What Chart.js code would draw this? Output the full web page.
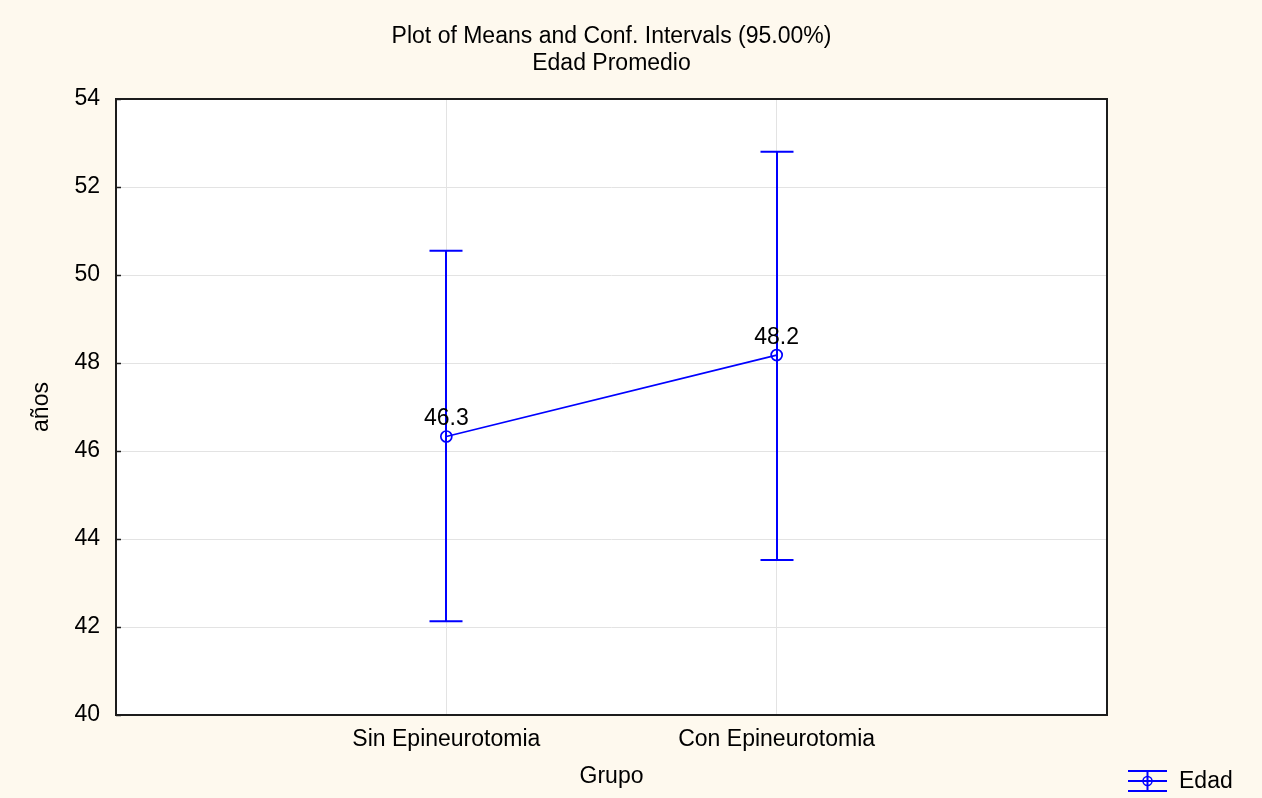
<!DOCTYPE html>
<html>
<head>
<meta charset="utf-8">
<script src="https://cdn.jsdelivr.net/npm/chart.js@4.4.1/dist/chart.umd.min.js"></script>
<style>
  html, body { margin: 0; padding: 0; background: #fef9ee; }
  #wrap { width: 1262px; height: 798px; }
  canvas { display: block; }
</style>
</head>
<body>
<div id="wrap"><canvas id="chart"></canvas></div>
<script>
// Group means of age with 95% confidence limits
const groups = ['Sin Epineurotomia', 'Con Epineurotomia'];
const means = [46.33, 48.18];
const lowerCI = [42.13, 43.52];
const upperCI = [50.55, 52.80];
const meanLabels = ['46.3', '48.2'];
const yTickValues = [40, 42, 44, 46, 48, 50, 52, 54];
const seriesName = 'Edad';

const FONT = 'Liberation Sans, Arial, Helvetica, sans-serif';
const FS = 23;
const BLUE = '#0000ff';
const PAPER = '#fef9ee';

// Page background, white plot area, frame and inner tick marks
const framePlugin = {
  id: 'frame',
  beforeDraw(chart) {
    const { ctx, chartArea: a, width, height } = chart;
    ctx.save();
    ctx.fillStyle = PAPER;
    ctx.fillRect(0, 0, width, height);
    ctx.fillStyle = '#ffffff';
    ctx.fillRect(a.left, a.top, a.right - a.left, a.bottom - a.top);
    ctx.restore();
  },
  afterDraw(chart) {
    const { ctx, chartArea: a, scales } = chart;
    ctx.save();
    ctx.strokeStyle = '#1c1c1c';
    ctx.lineWidth = 2;
    ctx.strokeRect(a.left, a.top, a.right - a.left, a.bottom - a.top);
    ctx.lineWidth = 1.5;
    yTickValues.forEach(v => {
      const y = Math.round(scales.y.getPixelForValue(v)) + 0.5;
      ctx.beginPath();
      ctx.moveTo(a.left, y);
      ctx.lineTo(a.left + 5, y);
      ctx.stroke();
    });
    ctx.restore();
  }
};

// Confidence interval whiskers with end caps
const errorBarPlugin = {
  id: 'errorBars',
  beforeDatasetsDraw(chart) {
    const { ctx, scales } = chart;
    const cap = 16.5;
    ctx.save();
    ctx.strokeStyle = BLUE;
    ctx.lineWidth = 2;
    groups.forEach((g, i) => {
      const x = Math.round(scales.x.getPixelForValue(i + 1));
      const yLo = scales.y.getPixelForValue(lowerCI[i]);
      const yHi = scales.y.getPixelForValue(upperCI[i]);
      ctx.beginPath();
      ctx.moveTo(x, yLo);
      ctx.lineTo(x, yHi);
      ctx.moveTo(x - cap, yLo);
      ctx.lineTo(x + cap, yLo);
      ctx.moveTo(x - cap, yHi);
      ctx.lineTo(x + cap, yHi);
      ctx.stroke();
    });
    ctx.restore();
  }
};

// Value labels above each mean, plus the legend entry
const annotatePlugin = {
  id: 'annotate',
  afterDatasetsDraw(chart) {
    const { ctx, scales } = chart;
    ctx.save();
    ctx.fillStyle = '#000000';
    ctx.font = FS + 'px ' + FONT;
    ctx.textAlign = 'center';
    ctx.textBaseline = 'alphabetic';
    groups.forEach((g, i) => {
      const x = scales.x.getPixelForValue(i + 1);
      const y = scales.y.getPixelForValue(means[i]);
      ctx.fillText(meanLabels[i], x, y - 11);
    });

    // legend symbol: whisker with caps and a circle
    const lx = 1128, lw = 39, ly = 781;
    ctx.strokeStyle = BLUE;
    ctx.lineWidth = 2;
    ctx.beginPath();
    ctx.moveTo(lx, ly - 10); ctx.lineTo(lx + lw, ly - 10);
    ctx.moveTo(lx, ly); ctx.lineTo(lx + lw, ly);
    ctx.moveTo(lx, ly + 10); ctx.lineTo(lx + lw, ly + 10);
    ctx.moveTo(lx + lw / 2, ly - 10); ctx.lineTo(lx + lw / 2, ly + 10);
    ctx.stroke();
    ctx.lineWidth = 1.5;
    ctx.beginPath();
    ctx.arc(lx + lw / 2, ly, 4.5, 0, Math.PI * 2);
    ctx.stroke();
    ctx.fillStyle = '#000000';
    ctx.textAlign = 'left';
    ctx.textBaseline = 'middle';
    ctx.fillText(seriesName, 1179, ly + 1);
    ctx.restore();
  }
};

new Chart(document.getElementById('chart'), {
  type: 'line',
  data: {
    datasets: [{
      label: seriesName,
      data: means.map((m, i) => ({ x: i + 1, y: m })),
      borderColor: BLUE,
      borderWidth: 1.7,
      pointStyle: 'circle',
      pointRadius: 5.5,
      pointBorderWidth: 1.7,
      pointBorderColor: BLUE,
      pointBackgroundColor: 'rgba(0,0,0,0)',
      tension: 0,
      clip: false
    }]
  },
  options: {
    responsive: true,
    maintainAspectRatio: false,
    animation: false,
    layout: { padding: { left: 0, right: 39, top: 0, bottom: 0 } },
    plugins: {
      legend: { display: false },
      tooltip: { enabled: false },
      title: {
        display: true,
        text: ['Plot of Means and Conf. Intervals (95.00%)', 'Edad Promedio'],
        color: '#000000',
        font: { family: FONT, size: FS, weight: 'normal', lineHeight: 27 / FS },
        padding: { top: 23, bottom: 22 }
      }
    },
    scales: {
      x: {
        type: 'linear',
        position: 'bottom',
        min: 0,
        max: 3,
        afterBuildTicks(scale) {
          scale.ticks = groups.map((g, i) => ({ value: i + 1 }));
        },
        afterFit(scale) { scale.height = 83; },
        grid: { color: '#e3e3e3', lineWidth: 1, drawTicks: false },
        border: { display: false },
        ticks: {
          autoSkip: false,
          maxRotation: 0,
          padding: 11,
          color: '#000000',
          font: { family: FONT, size: FS },
          callback: (v) => groups[Math.round(v) - 1]
        },
        title: {
          display: true,
          text: 'Grupo',
          color: '#000000',
          font: { family: FONT, size: FS },
          padding: { top: 0, bottom: 8 }
        }
      },
      y: {
        position: 'left',
        min: 40,
        max: 54,
        afterBuildTicks(scale) {
          scale.ticks = yTickValues.map(v => ({ value: v }));
        },
        afterFit(scale) { scale.width = 116; },
        grid: { color: '#e3e3e3', lineWidth: 1, drawTicks: false },
        border: { display: false },
        ticks: {
          padding: 16,
          color: '#000000',
          font: { family: FONT, size: FS }
        },
        title: {
          display: true,
          text: 'años',
          color: '#000000',
          font: { family: FONT, size: FS },
          padding: { top: 28, bottom: 0 }
        }
      },
      yRight: {
        position: 'right',
        display: true,
        afterFit(scale) { scale.width = 116; },
        grid: { display: false },
        border: { display: false },
        ticks: { display: false }
      }
    }
  },
  plugins: [framePlugin, errorBarPlugin, annotatePlugin]
});
</script>
</body>
</html>
